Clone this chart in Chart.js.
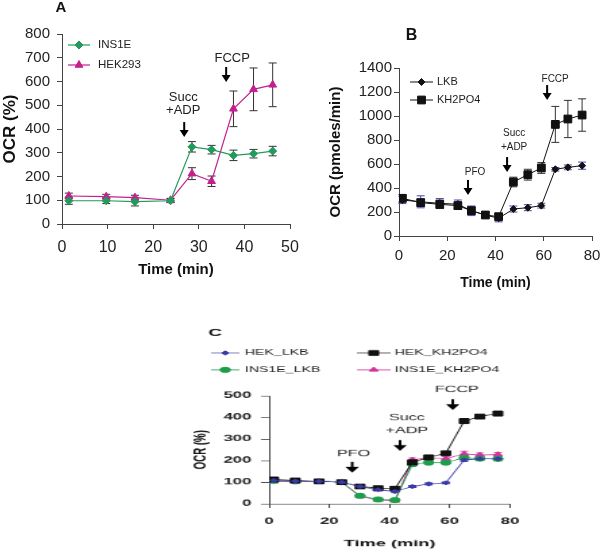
<!DOCTYPE html>
<html><head><meta charset="utf-8">
<script src="https://cdn.jsdelivr.net/npm/chart.js@4/dist/chart.umd.min.js"></script>
<style>
html,body{margin:0;padding:0;background:#fff;width:600px;height:552px;overflow:hidden;}
.p{position:absolute;}
#wa{left:0;top:0;width:300px;height:290px;}
#wb{left:300px;top:0;width:300px;height:300px;}
#wc{left:180px;top:300px;width:311px;height:350px;transform:scale(1.35,0.72);transform-origin:0 0;}
</style></head><body>
<div class="p" id="wa"><canvas id="ca" width="300" height="290"></canvas></div>
<div class="p" id="wb"><canvas id="cb" width="300" height="300"></canvas></div>
<div class="p" id="wc"><canvas id="cc" width="311" height="350"></canvas></div>
<script>
// ---------- Panel A data ----------
const timeA = [1.5, 9.7, 16, 23.8, 28.5, 32.8, 37.6, 42, 46.2];
const ins1eA = [98, 98, 94, 98, 325, 313, 289, 296, 307];
const ins1eAErr = [15, 12, 18, 8, 22, 18, 22, 18, 20];
const hek293A = [118, 115, 111, 100, 212, 180, 485, 567, 586];
const hek293AErr = [12, 10, 10, 8, 25, 22, 75, 90, 92];
const xTicksA = [0, 10, 20, 30, 40, 50];
const yTicksA = [0, 100, 200, 300, 400, 500, 600, 700, 800];
const notesA = [
  {t: 26.8, v: 366, lines: ['Succ', '+ADP']},
  {t: 36, v: 598, lines: ['FCCP']}
];

// ---------- Panel B data ----------
const timeB = [1.4, 9, 16.9, 24.4, 30, 35.8, 41.3, 47.4, 53.4, 59, 64.8, 70, 75.9];
const lkbB = [300, 285, 272, 265, 210, 175, 148, 225, 236, 253, 556, 572, 586];
const lkbBErr = [30, 50, 40, 35, 40, 25, 30, 25, 25, 20, 15, 20, 30];
const kh2po4B = [314, 278, 264, 253, 211, 175, 161, 450, 511, 567, 930, 975, 1008];
const kh2po4BErr = [30, 30, 35, 30, 30, 20, 25, 40, 45, 45, 150, 155, 135];
const xTicksB = [0, 20, 40, 60, 80];
const yTicksB = [0, 200, 400, 600, 800, 1000, 1200, 1400];
const notesB = [
  {t: 28.6, v: 342, lines: ['PFO']},
  {t: 44.8, v: 533, lines: ['Succ', '+ADP']},
  {t: 61.4, v: 1133, lines: ['FCCP']}
];

// ---------- Panel C data ----------
const timeC = [1.5, 8.7, 16.6, 24.1, 30.2, 36.2, 41.8, 47.6, 53, 58.7, 64.8, 70, 76];
const hekLkbC = [108, 105, 104, 100, 80, 65, 57, 80, 92, 97, 203, 208, 208];
const hekLkbCErr = [5, 5, 4, 3, 6, 6, 6, 5, 5, 5, 8, 6, 6];
const hekKhC = [112, 108, 104, 100, 80, 72, 70, 192, 215, 234, 383, 404, 418];
const hekKhCErr = [6, 5, 4, 3, 6, 6, 8, 8, 8, 8, 8, 8, 8];
const insLkbC = [106, 104, 104, 100, 37, 20, 17, 183, 191, 191, 213, 209, 208];
const insLkbCErr = [5, 5, 4, 3, 5, 5, 5, 10, 10, 10, 10, 10, 10];
const insKhC = [103, 102, 104, 100, 34, 18, 14, 203, 213, 209, 231, 226, 228];
const insKhCErr = [5, 5, 4, 3, 5, 5, 5, 10, 10, 10, 12, 10, 10];
const xTicksC = [0, 20, 40, 60, 80];
const yTicksC = [0, 100, 200, 300, 400, 500];
const notesC = [
  {t: 27.6, v: 144, lines: ['PFO']},
  {t: 43.5, v: 245, lines: ['Succ', '+ADP']},
  {t: 61, v: 434, lines: ['FCCP']}
];

const FONT = "'Liberation Sans', Arial, sans-serif";
const pts = (xs, ys) => xs.map((x, i) => ({x: x, y: ys[i]}));

// ---------- plugins ----------
const errorBars = {
  id: 'errorBars',
  beforeDatasetsDraw(chart, args, o) {
    const ctx = chart.ctx, ys = chart.scales.y;
    chart.data.datasets.forEach((ds, i) => {
      if (!ds.errors) return;
      const meta = chart.getDatasetMeta(i);
      ctx.save();
      ctx.strokeStyle = ds.errColor || '#333';
      ctx.lineWidth = o.width || 1;
      meta.data.forEach((pt, j) => {
        const e = ds.errors[j];
        if (!e) return;
        const v = ds.data[j].y, c = o.cap || 3, x = pt.x;
        const y1 = ys.getPixelForValue(v + e), y2 = ys.getPixelForValue(v - e);
        ctx.beginPath();
        ctx.moveTo(x, y1); ctx.lineTo(x, y2);
        ctx.moveTo(x - c, y1); ctx.lineTo(x + c, y1);
        ctx.moveTo(x - c, y2); ctx.lineTo(x + c, y2);
        ctx.stroke();
      });
      ctx.restore();
    });
  }
};

const miniLegend = {
  id: 'miniLegend',
  afterDraw(chart, args, o) {
    const ctx = chart.ctx;
    chart.data.datasets.forEach((ds, i) => {
      const p = o.pos[i];
      if (!p) return;
      ctx.save();
      ctx.strokeStyle = ds.borderColor;
      ctx.lineWidth = ds.borderWidth || 1;
      ctx.beginPath(); ctx.moveTo(p[0], p[2]); ctx.lineTo(p[1], p[2]); ctx.stroke();
      ctx.fillStyle = ds.pointBackgroundColor || ds.borderColor;
      ctx.strokeStyle = ds.borderColor;
      ctx.lineWidth = 1;
      Chart.helpers.drawPoint(ctx, {pointStyle: ds.pointStyle, radius: ds.pointRadius, rotation: 0, borderWidth: 1}, (p[0] + p[1]) / 2, p[2]);
      ctx.fillStyle = o.color || '#222';
      ctx.font = o.font;
      ctx.textBaseline = 'middle';
      ctx.textAlign = 'left';
      ctx.fillText(ds.label, p[3], p[2]);
      ctx.restore();
    });
  }
};

const arrowNotes = {
  id: 'arrowNotes',
  afterDraw(chart, args, o) {
    const ctx = chart.ctx, xs = chart.scales.x, ys = chart.scales.y;
    o.items.forEach((a, idx) => {
      const lay = o.layout[idx];
      const x = xs.getPixelForValue(a.t), y = ys.getPixelForValue(a.v);
      ctx.save();
      ctx.strokeStyle = '#000'; ctx.fillStyle = '#000'; ctx.lineWidth = o.lw;
      ctx.beginPath(); ctx.moveTo(x, y - o.len); ctx.lineTo(x, y - o.head + 1); ctx.stroke();
      ctx.beginPath(); ctx.moveTo(x - o.hw, y - o.head); ctx.lineTo(x + o.hw, y - o.head); ctx.lineTo(x, y); ctx.closePath(); ctx.fill();
      ctx.font = o.font; ctx.textAlign = 'center'; ctx.textBaseline = 'middle'; ctx.fillStyle = '#222';
      const n = a.lines.length;
      a.lines.forEach((s, k) => ctx.fillText(s, x + lay.dx, y - lay.gap - (n - 1 - k) * o.lh));
      ctx.restore();
    });
  }
};

const panelLabel = {
  id: 'panelLabel',
  afterDraw(chart, args, o) {
    const ctx = chart.ctx;
    ctx.save();
    ctx.font = o.font; ctx.fillStyle = '#111'; ctx.textAlign = 'center'; ctx.textBaseline = 'middle';
    ctx.fillText(o.text, o.x, o.y);
    ctx.restore();
  }
};

function axes(c) {
  return {
    x: {
      type: 'linear', min: c.xt[0], max: c.xt[c.xt.length - 1],
      afterBuildTicks(s) { s.ticks = c.xt.map(v => ({value: v})); },
      afterFit(s) { s.height = c.xh; s.paddingLeft = 0; s.paddingRight = 0; },
      border: {color: '#444', width: 1},
      grid: {display: true, drawOnChartArea: false, drawTicks: true, tickLength: c.tl, tickColor: '#444'},
      ticks: {font: c.xtf, color: '#222', padding: c.xpad, maxRotation: 0, autoSkip: false, callback: v => String(v)},
      title: {display: true, text: 'Time (min)', font: c.xtitle, color: '#111', padding: 0}
    },
    y: {
      type: 'linear', min: c.yt[0], max: c.yt[c.yt.length - 1],
      afterBuildTicks(s) { s.ticks = c.yt.map(v => ({value: v})); },
      afterFit(s) { s.width = c.yw; s.paddingTop = 0; s.paddingBottom = 0; },
      border: {color: '#444', width: 1},
      grid: {display: true, drawOnChartArea: false, drawTicks: true, tickLength: c.tl, tickColor: '#444'},
      ticks: {font: c.ytf, color: '#222', padding: c.ypad, autoSkip: false, callback: v => String(v)},
      title: {display: true, text: c.ytext, font: c.ytitle, color: '#111', padding: 0}
    }
  };
}

function line(label, data, errs, color, style, radius, errColor, bw) {
  return {
    label: label, data: data, errors: errs, errColor: errColor,
    borderColor: color, backgroundColor: color, pointBackgroundColor: color, pointBorderColor: color,
    pointStyle: style, pointRadius: radius, pointHoverRadius: radius, pointBorderWidth: 1,
    borderWidth: bw, tension: 0, fill: false
  };
}

const common = {responsive: false, animation: false, events: []};

// ---------- Chart A ----------
new Chart(document.getElementById('ca'), {
  type: 'line',
  data: {datasets: [
    line('INS1E', pts(timeA, ins1eA), ins1eAErr, '#229a5c', 'rectRot', 4, '#333', 1.2),
    line('HEK293', pts(timeA, hek293A), hek293AErr, '#c2218d', 'triangle', 4.5, '#333', 1.2)
  ]},
  options: Object.assign({}, common, {
    layout: {padding: {left: 0, top: 34, right: 10, bottom: 11}},
    scales: axes({xt: xTicksA, yt: yTicksA, xh: 55, yw: 62, tl: 5, xpad: 9, ypad: 7,
      xtf: {family: FONT, size: 16}, ytf: {family: FONT, size: 15},
      xtitle: {family: FONT, size: 15, weight: 'bold'}, ytitle: {family: FONT, size: 17, weight: 'bold'},
      ytext: 'OCR (%)'}),
    plugins: {
      legend: {display: false}, tooltip: {enabled: false},
      errorBars: {width: 1, cap: 4},
      miniLegend: {font: '11.5px ' + FONT, pos: [[68, 90, 45, 98], [68, 90, 65, 98]]},
      arrowNotes: {items: notesA, layout: [{dx: -1, gap: 27}, {dx: 6, gap: 24}], font: '13px ' + FONT, lh: 13, len: 15, head: 7, hw: 4.5, lw: 2},
      panelLabel: {text: 'A', x: 61, y: 8, font: 'bold 15px ' + FONT}
    }
  }),
  plugins: [errorBars, miniLegend, arrowNotes, panelLabel]
});

// ---------- Chart B ----------
new Chart(document.getElementById('cb'), {
  type: 'line',
  data: {datasets: [
    line('LKB', pts(timeB, lkbB), lkbBErr, '#111', 'rectRot', 3.5, '#4848b8', 1),
    line('KH2PO4', pts(timeB, kh2po4B), kh2po4BErr, '#111', 'rect', 5.5, '#333', 1)
  ]},
  options: Object.assign({}, common, {
    layout: {padding: {left: 27, top: 68, right: 8, bottom: 8}},
    scales: axes({xt: xTicksB, yt: yTicksB, xh: 56, yw: 72, tl: 5, xpad: 6, ypad: 2,
      xtf: {family: FONT, size: 15}, ytf: {family: FONT, size: 15},
      xtitle: {family: FONT, size: 14, weight: 'bold'}, ytitle: {family: FONT, size: 15, weight: 'bold'},
      ytext: 'OCR (pmoles/min)'}),
    plugins: {
      legend: {display: false}, tooltip: {enabled: false},
      errorBars: {width: 1, cap: 4},
      miniLegend: {font: '11px ' + FONT, pos: [[110, 133, 82, 137], [110, 133, 100, 137]]},
      arrowNotes: {items: notesB, layout: [{dx: 7, gap: 23}, {dx: 7, gap: 25}, {dx: 8, gap: 21}], font: '10px ' + FONT, lh: 14, len: 15, head: 7, hw: 4.5, lw: 2},
      panelLabel: {text: 'B', x: 111.5, y: 35.5, font: 'bold 16px ' + FONT}
    }
  }),
  plugins: [errorBars, miniLegend, arrowNotes, panelLabel]
});

// ---------- Chart C ----------
new Chart(document.getElementById('cc'), {
  type: 'line',
  data: {datasets: [
    line('HEK_LKB', pts(timeC, hekLkbC), hekLkbCErr, '#3a3aa8', 'rectRot', 3, '#3a3aa8', 1),
    line('HEK_KH2PO4', pts(timeC, hekKhC), hekKhCErr, '#111', 'rect', 5, '#333', 1),
    line('INS1E_LKB', pts(timeC, insLkbC), insLkbCErr, '#1e9e4a', 'circle', 3.8, '#1e9e4a', 1),
    line('INS1E_KH2PO4', pts(timeC, insKhC), insKhCErr, '#d2339c', 'triangle', 4, '#d2339c', 1)
  ]},
  options: Object.assign({}, common, {
    layout: {padding: {left: 7.5, top: 133, right: 66.6, bottom: 4}},
    scales: axes({xt: xTicksC, yt: yTicksC, xh: 63, yw: 58.5, tl: 6, xpad: 11, ypad: 7,
      xtf: {family: FONT, size: 12.5, weight: 'bold'}, ytf: {family: FONT, size: 12.5, weight: 'bold'},
      xtitle: {family: FONT, size: 13.5, weight: 'bold'}, ytitle: {family: FONT, size: 13.5, weight: 'bold'},
      ytext: 'OCR (%)'}),
    plugins: {
      legend: {display: false}, tooltip: {enabled: false},
      errorBars: {width: 1, cap: 3},
      miniLegend: {font: '10.5px ' + FONT, pos: [[23, 44, 73.6, 48], [131, 156, 73.6, 159], [23, 44, 97, 48], [131, 156, 97, 159]]},
      arrowNotes: {items: notesC, layout: [{dx: 1, gap: 26}, {dx: 5, gap: 28}, {dx: 3, gap: 28}], font: '12px ' + FONT, lh: 18, len: 15, head: 8, hw: 5, lw: 2},
      panelLabel: {text: 'C', x: 26, y: 46, font: 'bold 14px ' + FONT}
    }
  }),
  plugins: [errorBars, miniLegend, arrowNotes, panelLabel]
});
</script>
</body></html>
